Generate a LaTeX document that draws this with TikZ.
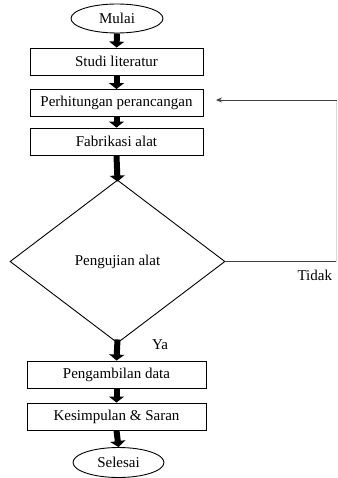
\documentclass[tikz,border=0pt]{standalone}
\usepackage{fontspec}
\setmainfont{Liberation Serif}
\usetikzlibrary{shapes.geometric,arrows.meta}
\begin{document}
\begin{tikzpicture}[x=1pt,y=-1pt,
  every node/.style={font=\fontsize{15}{17}\selectfont},
  procbox/.style={draw, line width=0.9pt, minimum width=173pt, minimum height=27pt, inner sep=0pt},
  term/.style={draw, ellipse, line width=0.9pt, inner sep=0pt},
  blockarrow/.style={line width=6pt, -{Triangle[width=15pt,length=6pt]}},
  thinline/.style={line width=0.9pt, draw=black!75}]
\useasboundingbox (0,0) rectangle (337,478);
\node[term, minimum width=92pt, minimum height=29pt] (mulai) at (117,18.5) {Mulai};
\node[procbox] (studi) at (116.5,61.5) {Studi literatur};
\node[procbox] (hitung) at (116.5,103) {Perhitungan perancangan};
\node[procbox] (fab) at (116.5,141.5) {Fabrikasi alat};
\node[draw, diamond, line width=0.9pt, minimum width=215pt, minimum height=163pt, inner sep=0pt, aspect=1.32] (uji) at (117.5,261.5) {Pengujian alat};
\node[procbox, minimum width=179pt] (ambil) at (116.5,374.5) {Pengambilan data};
\node[procbox, minimum width=179pt] (simpul) at (116.5,416.5) {Kesimpulan \& Saran};
\node[term, minimum width=91pt, minimum height=30pt] (selesai) at (118.5,462.5) {Selesai};
\coordinate (rb) at (336.5,261.5);
\coordinate (rt) at (336.5,100);
\coordinate (tip) at (216,100);
\draw[blockarrow] (mulai.south) -- (studi.north);
\draw[blockarrow] (studi.south) -- (hitung.north);
\draw[blockarrow] (hitung.south) -- (fab.north);
\draw[blockarrow] (fab.south) -- ([yshift=-2pt]uji.north);
\draw[blockarrow] ([yshift=4pt]uji.south) -- (ambil.north);
\draw[blockarrow] (ambil.south) -- (simpul.north);
\draw[blockarrow] (simpul.south) -- (selesai.north);
\draw[thinline] (uji.east) -- (rb);
\draw[line width=0.5pt, draw=black!15] (rb) -- (rt);
\draw[thinline, -{Stealth[length=6pt,width=5pt]}] (rt) -- (tip);
\node[anchor=west] (tidak) at (294,275) {Tidak};
\node (ya) at (160,345) {Ya};
\end{tikzpicture}
\end{document}
